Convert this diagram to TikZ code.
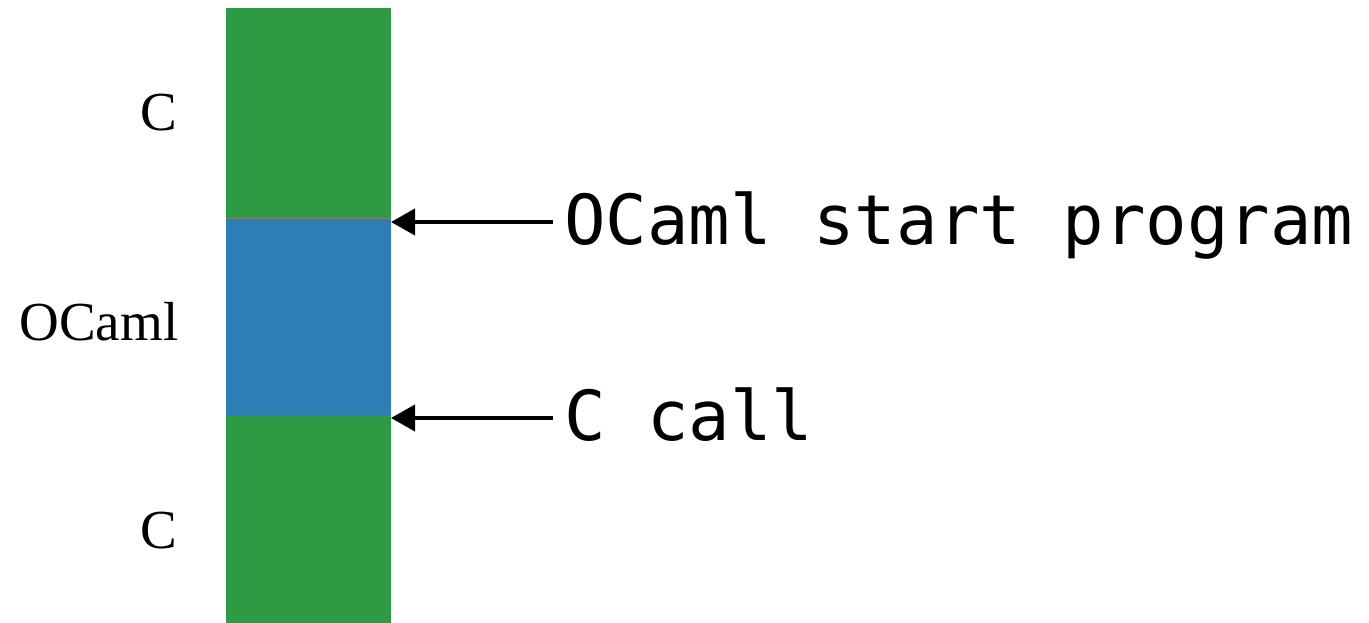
\documentclass[tikz,border=0pt]{standalone}
\usepackage{fontspec}
\setmainfont{Liberation Serif}
\setmonofont{DejaVu Sans Mono}
\usetikzlibrary{arrows.meta}
\definecolor{cgreen}{RGB}{46,154,68}
\definecolor{cblue}{RGB}{46,126,182}
\begin{document}
\begin{tikzpicture}[x=1pt,y=-1pt,
  block/.style={draw=none,inner sep=0,outer sep=0,minimum width=165pt},
  lang/.style={font=\fontsize{55}{60}\selectfont,inner sep=0,anchor=base},
  mono/.style={font=\ttfamily\fontsize{69}{74}\selectfont,inner sep=0,anchor=base west},
  arr/.style={line width=4pt,-{Triangle[length=24pt,width=26pt]}}]
\useasboundingbox (0,0) rectangle (1369,623);
\node[block,fill=cgreen,minimum height=210pt,anchor=north west] (top) at (226,8) {};
\node[block,fill=cblue,minimum height=197pt,anchor=north west] (mid) at (226,218) {};
\node[block,fill=cgreen,minimum height=208pt,anchor=north west] (bot) at (226,415) {};
\draw[gray,line width=1pt] (mid.north west) -- (mid.north east);
\node[lang] (lc1) at (159,131) {C};
\node[lang] (lo) at (99,340) {OCaml};
\node[lang] (lc2) at (159,548) {C};
\node[mono] (t1) at (564,244) {OCaml start program};
\node[mono] (t2) at (564,440) {C call};
\coordinate (tipA) at (391,222);
\coordinate (tipB) at (391,418);
\draw[arr] ([xshift=-11pt]t1.west |- tipA) -- (tipA);
\draw[arr] ([xshift=-11pt]t2.west |- tipB) -- (tipB);
\end{tikzpicture}
\end{document}
